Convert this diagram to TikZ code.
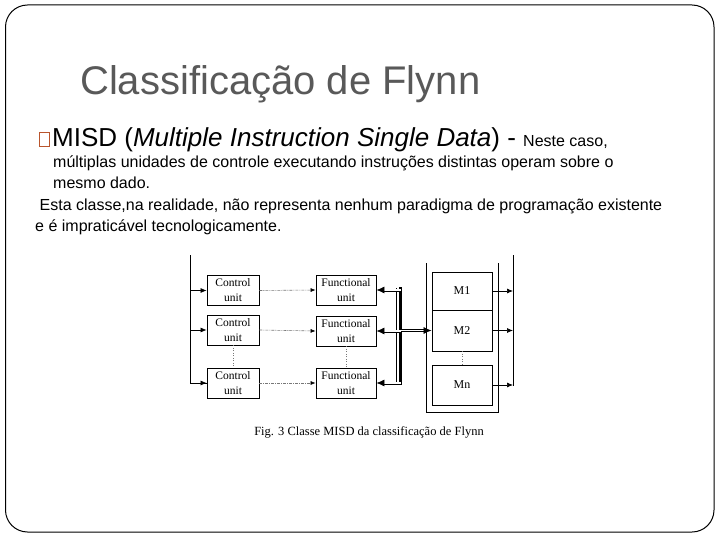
\documentclass[tikz,border=0pt]{standalone}
\usepackage{fontspec}
\setmainfont{Liberation Sans}
\newfontfamily\seriffont{Liberation Serif}
\usetikzlibrary{arrows.meta}
\definecolor{titlegray}{RGB}{89,89,89}
\definecolor{bulletorange}{RGB}{185,85,45}
\definecolor{dotgray}{RGB}{120,120,120}
\begin{document}
\begin{tikzpicture}[x=1pt,y=-1pt,
  unitbox/.style={draw=black, line width=0.8pt, minimum width=52pt, minimum height=30pt, inner sep=0pt, align=center, font=\seriffont\fontsize{11.5}{15}\selectfont},
  fubox/.style={unitbox, minimum width=60pt},
  membox/.style={draw=black, line width=0.8pt, minimum width=60pt, inner sep=0pt, font=\seriffont\fontsize{12}{14}\selectfont},
  arr/.style={line width=0.7pt, -{Latex[length=6pt,width=5pt]}},
  dotarr/.style={draw=dotgray, line width=0.6pt, dash pattern=on 3pt off 1pt on 1pt off 1pt, -{Latex[length=5pt,width=4pt]}, arrows={[color=black]}},
  dotline/.style={draw=dotgray, line width=0.6pt, dash pattern=on 1pt off 1.5pt},
  dblarr/.style={double, double distance=1.6pt, line width=0.7pt, -{Latex[length=8pt,width=7pt]}},
  plain/.style={line width=0.8pt},
  bodytext/.style={anchor=base west, inner sep=0pt, font=\fontsize{16}{19}\selectfont},
]
\useasboundingbox (0,0) rectangle (720,540);
\draw[line width=1pt, rounded corners=22pt] (5.5,5) rectangle (714,532);

% texts
\node[anchor=base west, inner sep=0pt, text=titlegray, font=\fontsize{40}{46}\selectfont] (title) at (80,95) {Classificação de Flynn};
\node[draw=bulletorange, line width=1.5pt, minimum width=10pt, minimum height=14pt, inner sep=0pt] (bullet) at (44.5,139.5) {};
\node[anchor=base west, inner sep=0pt, font=\fontsize{26}{30}\selectfont] (misd) at (52,147) {MISD (\textit{Multiple Instruction Single Data}) - {\fontsize{16}{19}\selectfont Neste caso,}};
\node[bodytext] (l2) at (53,168) {múltiplas unidades de controle executando instruções distintas operam sobre o};
\node[bodytext] (l3) at (53,189) {mesmo dado.};
\node[bodytext] (l4) at (35,211) {\ Esta classe,na realidade, não representa nenhum paradigma de programação existente};
\node[bodytext] (l5) at (35,232) {e é impraticável tecnologicamente.};

% diagram nodes
\node[unitbox] (cu1) at (233,290.5) {Control\\unit};
\node[unitbox] (cu2) at (233,330) {Control\\unit};
\node[unitbox] (cu3) at (233,383) {Control\\unit};
\node[fubox] (fu1) at (346,290) {Functional\\unit};
\node[fubox] (fu2) at (346,331) {Functional\\unit};
\node[fubox] (fu3) at (346,383) {Functional\\unit};
\node[membox, minimum height=38pt] (m1) at (462,291) {M1};
\node[membox, minimum height=41pt] (m2) at (462,330.5) {M2};
\node[membox, minimum height=40pt] (mn) at (462,385) {Mn};

\coordinate (ltop) at (190,255);
\coordinate (rtop) at (513,255);
\coordinate (rbot) at (513,386);
\coordinate (btop) at (400.5,287);
\coordinate (bbot) at (400.5,385);
\coordinate (bttop) at (396.5,288);
\coordinate (btbot) at (396.5,384);
\coordinate (el) at (426,263);
\coordinate (er) at (498,263);

% input line and arrows
\draw[plain] (ltop) |- (cu3.west);
\draw[arr] (ltop |- cu3.west) -- (cu3.west);
\draw[arr] (ltop |- cu1.west) -- (cu1.west);
\draw[arr] (ltop |- cu2.west) -- (cu2.west);

% control to functional
\draw[dotarr] (cu1.east) -- (fu1.west);
\draw[dotarr] (cu2.east) -- (fu2.west);
\draw[dotarr] (cu3.east |- fu3.west) -- (fu3.west);
\draw[dotline] (cu2.south) -- (cu3.north);
\draw[dotline] (fu2.south) -- (fu3.north);
\draw[dotline] (m2.south) -- (mn.north);

% bus
\draw[line width=0.7pt] (bttop) -- (btbot);
\draw[line width=2.6pt] (btop) -- (bbot);
\draw[dblarr] (btop |- fu1.east) -- (fu1.east);
\draw[dblarr] (btop |- fu2.east) -- (fu2.east);
\draw[dblarr] (btop |- fu3.east) -- (fu3.east);
\draw[dblarr] (btop |- m2.west) -- (m2.west);

% memory enclosure
\draw[plain] (el) -- (el |- 0,412) -- (er |- 0,412) -- (er);

% output line and arrows
\draw[plain] (rtop) -- (rbot);
\draw[arr] (m1.east) -- (m1.east -| rtop);
\draw[arr] (m2.east) -- (m2.east -| rtop);
\draw[arr] (mn.east) -- (mn.east -| rtop);

\node[anchor=base, inner sep=0pt, font=\seriffont\fontsize{12.5}{15}\selectfont] (caption) at (369,435) {Fig. 3 Classe MISD da classificação de Flynn};
\end{tikzpicture}
\end{document}
